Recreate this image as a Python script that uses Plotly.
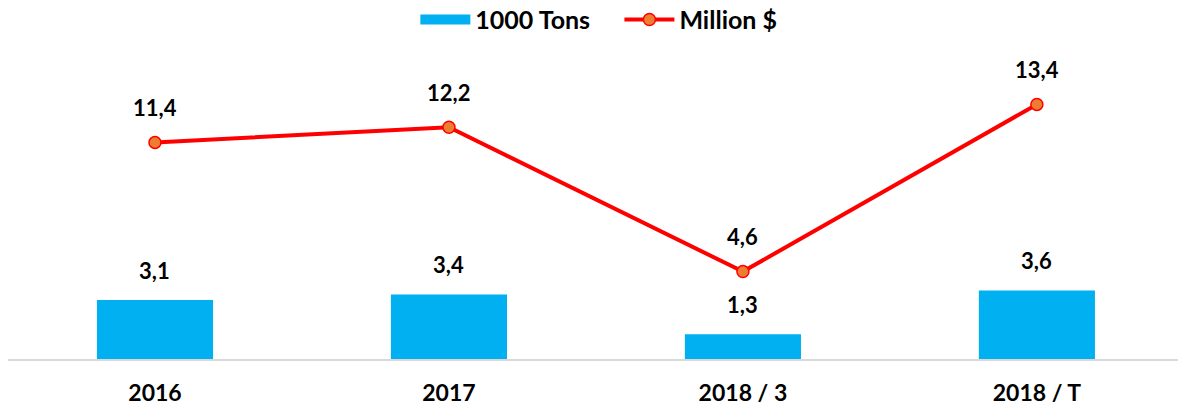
import plotly.graph_objects as go

categories = ["2016", "2017", "2018 / 3", "2018 / T"]
tons = [3.1, 3.4, 1.3, 3.6]
million_usd = [11.4, 12.2, 4.6, 13.4]

BLUE = "#00B0F0"
RED = "#FF0000"
ORANGE = "#ED7D31"
FONT = "Lato"

def fmt(v):
    return f"{v:.1f}".replace(".", ",")

fig = go.Figure()
fig.add_trace(go.Bar(x=categories, y=tons, marker=dict(color=BLUE, line=dict(width=0)),
                     width=0.395, showlegend=False, name="1000 Tons"))
# legend swatch for bars (wide rectangle like the reference)
fig.add_trace(go.Scatter(x=[None], y=[None], mode="lines", name="1000 Tons\u00a0\u00a0\u00a0\u00a0",
                         line=dict(color=BLUE, width=15)))
fig.add_trace(go.Scatter(x=categories, y=million_usd, mode="lines+markers", name="Million $",
                         line=dict(color=RED, width=4),
                         marker=dict(size=12, color=ORANGE, line=dict(color=RED, width=1.5))))

anns = []
for i, v in enumerate(tons):
    anns.append(dict(x=i, y=v, text=fmt(v), showarrow=False, yanchor="middle", yshift=30,
                     font=dict(family=FONT, size=22, color="black", weight="bold")))
for i, v in enumerate(million_usd):
    anns.append(dict(x=i, y=v, text=fmt(v), showarrow=False, yanchor="middle", yshift=35,
                     font=dict(family=FONT, size=22, color="black", weight="bold")))

fig.update_layout(
    width=1178, height=413,
    margin=dict(l=8, r=0, t=55, b=54, autoexpand=False),
    paper_bgcolor="white", plot_bgcolor="white",
    font=dict(family=FONT, size=22, color="black", weight="bold"),
    legend=dict(orientation="h", x=0.505, xanchor="center", y=0.952, yanchor="middle",
                yref="container",
                font=dict(family=FONT, size=25, color="black", weight="bold"),
                itemwidth=50, tracegroupgap=0),
    annotations=anns,
    xaxis=dict(type="category", range=[-0.5, 3.48], showgrid=False, showline=True,
               linecolor="#D9D9D9", linewidth=2, ticks="", ticklabelstandoff=12,
               automargin=False,
               tickfont=dict(family=FONT, size=23, color="black", weight="bold")),
    yaxis=dict(range=[0, 16], visible=False, showgrid=False, zeroline=False, automargin=False),
)
fig.write_html("out.html", config={"displayModeBar": False},
               post_script="document.body.style.margin='0';document.body.style.padding='0';")
